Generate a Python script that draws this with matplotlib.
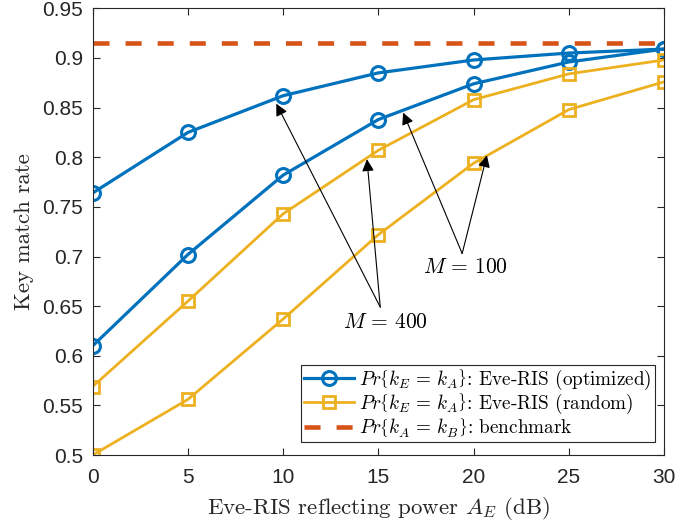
import matplotlib
matplotlib.use("Agg")
import matplotlib.pyplot as plt

plt.rcParams['mathtext.fontset'] = 'cm'

x = [0, 5, 10, 15, 20, 25, 30]
opt_m400 = [0.764, 0.825, 0.862, 0.885, 0.898, 0.905, 0.909]
opt_m100 = [0.610, 0.702, 0.782, 0.838, 0.874, 0.896, 0.909]
rnd_m400 = [0.569, 0.655, 0.743, 0.807, 0.858, 0.884, 0.898]
rnd_m100 = [0.500, 0.556, 0.637, 0.722, 0.794, 0.848, 0.876]
benchmark = 0.915

blue = '#0072BD'
orange = '#EDB120'
red = '#D95319'

fig = plt.figure(figsize=(6.99, 5.23), dpi=100)
ax = fig.add_axes([0.1326, 0.130, 0.8174, 0.854])

serif = 'cmr10'
sans = 'Liberation Sans'

l1, = ax.plot(x, opt_m400, '-o', color=blue, lw=2.3, ms=10, mfc='none', mew=2.2)
ax.plot(x, opt_m100, '-o', color=blue, lw=2.3, ms=10, mfc='none', mew=2.2)
l2, = ax.plot(x, rnd_m400, '-s', color=orange, lw=2.0, ms=8, mfc='none', mew=2.0)
ax.plot(x, rnd_m100, '-s', color=orange, lw=2.0, ms=8, mfc='none', mew=2.0)
l3 = ax.axhline(benchmark, color=red, lw=3.3, ls=(0, (3.5, 3.5)))

ax.set_xlim(0, 30)
ax.set_ylim(0.5, 0.95)
ax.set_xticks([0, 5, 10, 15, 20, 25, 30])
ax.set_yticks([0.5, 0.55, 0.6, 0.65, 0.7, 0.75, 0.8, 0.85, 0.9, 0.95])
ax.set_yticklabels(['0.5', '0.55', '0.6', '0.65', '0.7', '0.75', '0.8', '0.85', '0.9', '0.95'])
ax.tick_params(direction='in', top=True, right=True, labelsize=15, length=5,
               color='#262626', labelcolor='#262626')
ax.tick_params(axis='x', pad=9)
ax.tick_params(axis='y', pad=7)
for lab in ax.get_xticklabels() + ax.get_yticklabels():
    lab.set_fontfamily(sans)
for s in ax.spines.values():
    s.set_color('#262626')
    s.set_linewidth(0.8)

ax.set_xlabel('Eve-RIS reflecting power $A_E$ (dB)', fontsize=16.5, family=serif, color='#262626', labelpad=6)
ax.set_ylabel('Key match rate', fontsize=16.5, family=serif, color='#262626', labelpad=6)

arrow = dict(arrowstyle='-|>', color='black', lw=0.8, mutation_scale=18,
             shrinkA=0, shrinkB=0)
ax.annotate('', xy=(16.3, 0.845), xytext=(19.4, 0.703), arrowprops=arrow)
ax.annotate('', xy=(20.7, 0.802), xytext=(19.4, 0.703), arrowprops=arrow)
ax.text(19.6, 0.689, r'$M\,=\,100$', fontsize=15.5, ha='center', va='center')

ax.annotate('', xy=(9.64, 0.854), xytext=(15.1, 0.649), arrowprops=arrow)
ax.annotate('', xy=(14.4, 0.798), xytext=(15.1, 0.649), arrowprops=arrow)
ax.text(15.35, 0.634, r'$M\,=\,400$', fontsize=15.5, ha='center', va='center')

leg = ax.legend([l1, l2, l3],
                [r'$Pr\left\{k_E\,=\,k_A\right\}$: Eve-RIS (optimized)',
                 r'$Pr\left\{k_E\,=\,k_A\right\}$: Eve-RIS (random)',
                 r'$Pr\left\{k_A\,=\,k_B\right\}$: benchmark'],
                loc='lower right', bbox_to_anchor=(0.984, 0.030),
                prop={'family': serif, 'size': 13.8}, fancybox=False,
                framealpha=1, edgecolor='#262626', handlelength=2.6,
                borderpad=0.15, labelspacing=0.0, handletextpad=0.3, borderaxespad=0)
leg.get_frame().set_linewidth(0.8)

fig.savefig('out.png', dpi=100)
